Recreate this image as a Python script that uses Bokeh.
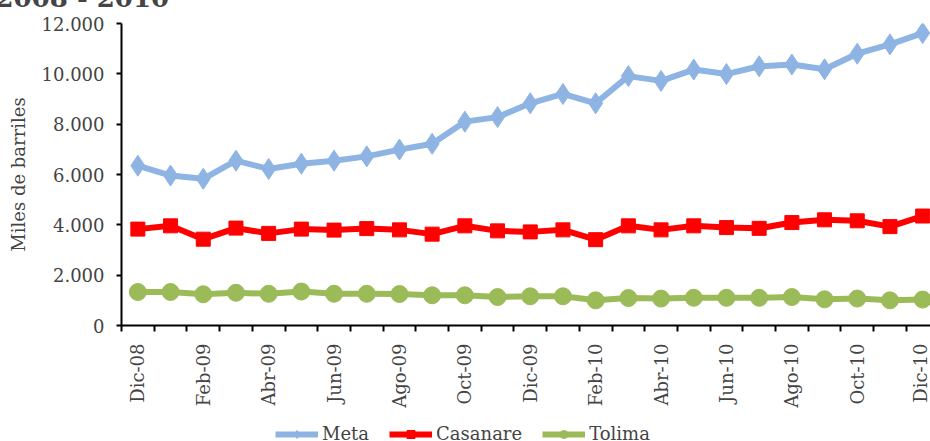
import numpy as np
from bokeh.plotting import figure
from bokeh.layouts import column
from bokeh.models import FixedTicker, Legend, LegendItem, Range1d
from bokeh.embed import file_html
from bokeh.resources import INLINE

months = ["Dic-08", "Ene-09", "Feb-09", "Mar-09", "Abr-09", "May-09", "Jun-09",
          "Jul-09", "Ago-09", "Sep-09", "Oct-09", "Nov-09", "Dic-09", "Ene-10",
          "Feb-10", "Mar-10", "Abr-10", "May-10", "Jun-10", "Jul-10", "Ago-10",
          "Sep-10", "Oct-10", "Nov-10", "Dic-10"]
meta = [6350, 5960, 5830, 6550, 6220, 6430, 6550, 6720, 6990, 7220, 8100, 8280,
        8830, 9200, 8830, 9910, 9720, 10170, 9990, 10300, 10370, 10180, 10800,
        11170, 11620]
casanare = [3830, 3960, 3430, 3870, 3660, 3830, 3790, 3850, 3800, 3630, 3960, 3760,
            3720, 3800, 3410, 3960, 3800, 3960, 3890, 3860, 4090, 4200, 4160,
            3930, 4350]
tolima = [1330, 1330, 1240, 1300, 1260, 1350, 1260, 1260, 1250, 1200, 1200, 1130,
          1160, 1160, 1000, 1090, 1070, 1100, 1100, 1100, 1130, 1040, 1070,
          1000, 1030]
series_names = ["Meta", "Casanare", "Tolima"]
y_ticks = [0, 2000, 4000, 6000, 8000, 10000, 12000]
y_tick_labels = ["0", "2.000", "4.000", "6.000", "8.000", "10.000", "12.000"]
title_text = "2008 - 2010"

x = list(range(len(months)))
FONT = "DejaVu Serif"
styles = [
    (meta, "#8EB4E3", "diamond", 21, 15),
    (casanare, "#FF0000", "square", 14, 12),
    (tolima, "#9BBB59", "circle", 17, 12),
]

p = figure(width=930, height=443, output_backend="svg", toolbar_location=None,
           x_range=(-0.5, 24.24), y_range=(0, 12000),
           min_border_left=121, min_border_right=0, min_border_top=56,
           min_border_bottom=83)
p.outline_line_color = None
p.xgrid.visible = False
p.ygrid.visible = False

p.title.text = title_text
p.title.text_font = FONT
p.title.text_font_size = "26px"
p.title.text_font_style = "bold"
p.title.offset = -126
p.title.standoff = 21

for vals, col, mk, sz, _ in styles:
    p.line(x, vals, line_color=col, line_width=6)
    p.scatter(x, vals, marker=mk, size=sz, fill_color=col, line_color=col)

# Y axis
p.yaxis.ticker = FixedTicker(ticks=y_ticks)
p.yaxis.major_label_overrides = {t: l for t, l in zip(y_ticks, y_tick_labels)}
p.yaxis.axis_label = "Miles de barriles"
p.yaxis.axis_label_text_font = FONT
p.yaxis.axis_label_text_font_style = "normal"
p.yaxis.axis_label_text_font_size = "18px"
p.yaxis.axis_label_standoff = 10
p.yaxis.major_label_text_font = FONT
p.yaxis.major_label_text_font_size = "18px"
p.yaxis.major_label_standoff = 12
p.yaxis.major_tick_out = 5
p.yaxis.major_tick_in = 0
p.yaxis.minor_tick_line_color = None
for ax in (p.xaxis, p.yaxis):
    ax.axis_line_width = 2
    ax.axis_line_color = "black"
    ax.major_tick_line_width = 2
    ax.major_tick_line_color = "black"

# X axis
p.xaxis.ticker = FixedTicker(ticks=x[::2], minor_ticks=[i - 0.5 for i in range(len(months) + 1)])
p.xaxis.major_label_overrides = {i: months[i] for i in x[::2]}
p.xaxis.major_label_orientation = np.pi / 2
p.xaxis.major_label_text_font = FONT
p.xaxis.major_label_text_font_size = "18px"
p.xaxis.major_label_standoff = 12
p.xaxis.major_tick_line_color = None
p.xaxis.minor_tick_out = 6
p.xaxis.minor_tick_in = 0
p.xaxis.minor_tick_line_width = 2
p.xaxis.minor_tick_line_color = "black"

# Legend strip (same series, drawn out of view so only the legend shows)
lf = figure(width=930, height=48, output_backend="svg", toolbar_location=None,
            x_range=Range1d(1000, 1001), y_range=Range1d(0, 1),
            x_axis_type=None, y_axis_type=None,
            min_border_left=0, min_border_right=0, min_border_top=0, min_border_bottom=0)
lf.outline_line_color = None
lf.xgrid.visible = False
lf.ygrid.visible = False
items = []
for name, (vals, col, mk, _, lsz) in zip(series_names, styles):
    rl = lf.line(x, vals, line_color=col, line_width=6)
    rs = lf.scatter(x, vals, marker=mk, size=lsz, fill_color=col, line_color=col)
    items.append(LegendItem(label=name, renderers=[rl, rs]))
legend = Legend(items=items, orientation="horizontal", location=(154, 14),
                glyph_width=43, glyph_height=20, label_standoff=4, spacing=20,
                padding=0, margin=0, border_line_color=None, background_fill_alpha=0,
                label_text_font=FONT, label_text_font_size="18px")
lf.add_layout(legend, "center")

layout = column(p, lf, spacing=0)
layout.styles = {"margin-top": "-33px"}

open("out.html", "w").write(file_html(layout, INLINE))
